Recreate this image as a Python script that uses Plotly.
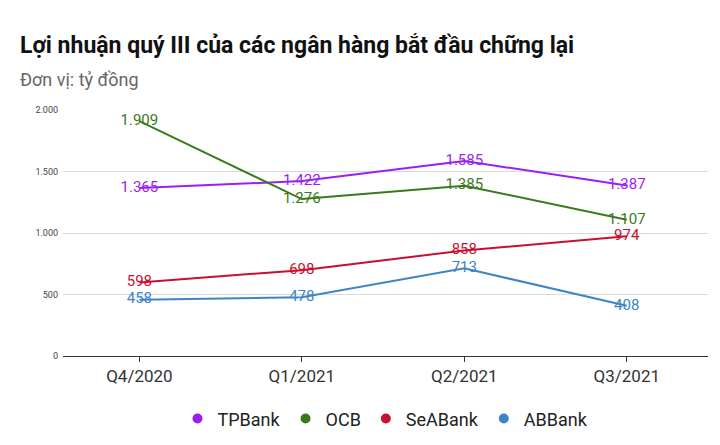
import plotly.graph_objects as go

quarters = ["Q4/2020", "Q1/2021", "Q2/2021", "Q3/2021"]
tpbank = [1365, 1422, 1585, 1387]
ocb = [1909, 1276, 1385, 1107]
seabank = [598, 698, 858, 974]
abbank = [458, 478, 713, 408]
series = [("TPBank", tpbank, "#9b1ff0"), ("OCB", ocb, "#3a7a1a"),
          ("SeABank", seabank, "#c8102e"), ("ABBank", abbank, "#3d85c6")]
yticks = [0, 500, 1000, 1500, 2000]
ytick_text = ["0", "500", "1.000", "1.500", "2.000"]

def fmt(v):
    return f"{v:,}".replace(",", ".")

fig = go.Figure()
for name, vals, col in series:
    fig.add_trace(go.Scatter(
        x=quarters, y=vals, name=name, mode="lines+text", showlegend=False,
        line=dict(color=col, width=2),
        text=[fmt(v) for v in vals], textposition="middle center",
        textfont=dict(color=col, size=15, family="Roboto"),
    ))
for name, vals, col in series:
    fig.add_trace(go.Scatter(x=[None], y=[None], name=name, mode="markers",
                             marker=dict(color=col, size=10, symbol="circle")))

fig.update_layout(
    width=720, height=445, plot_bgcolor="white", paper_bgcolor="white",
    margin=dict(l=55, r=20, t=102, b=97, autoexpand=False),
    font=dict(family="Roboto", color="#333"),
    annotations=[
        dict(text="<b>Lợi nhuận quý III của các ngân hàng bắt đầu chững lại</b>",
             xref="paper", yref="paper", x=-0.069, y=(445-102-22)/246 + 0, xanchor="left",
             yanchor="middle", showarrow=False, font=dict(size=23, color="#111")),
        dict(text="Đơn vị: tỷ đồng", xref="paper", yref="paper", x=-0.069,
             y=(445-102-72)/246, xanchor="left", yanchor="middle", showarrow=False,
             font=dict(size=18, color="#666")),
    ],
    xaxis=dict(range=[-0.47, 3.5], showgrid=False, showline=True, linecolor="#333",
               ticks="outside", tickcolor="#333", ticklen=5,
               tickfont=dict(size=17, color="#333")),
    yaxis=dict(range=[0, 2000], tickvals=yticks, ticktext=ytick_text,
               gridcolor="#d9d9d9", zeroline=False, tickfont=dict(size=9, color="#444"),
               ticklabelstandoff=4),
    legend=dict(orientation="h", x=0.5, xanchor="center", y=-0.18, yanchor="top",
                font=dict(size=18, color="#222"), itemwidth=30),
)
# fix annotation y positions relative to plot area (plot height 246 px)
ph = 445 - 102 - 97
fig.layout.annotations[0].y = 1 + (102 - 38) / ph
fig.layout.annotations[1].y = 1 + (102 - 72) / ph
fig.write_html("out.html")
